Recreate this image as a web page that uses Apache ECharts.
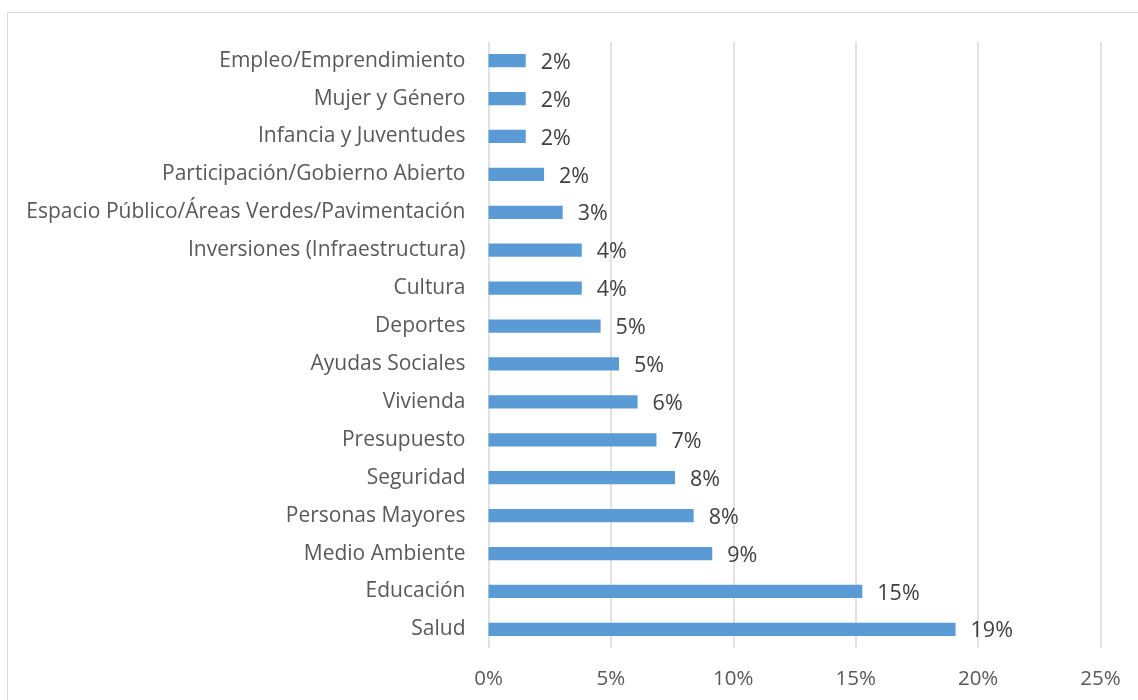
<!DOCTYPE html>
<html><head><meta charset="utf-8">
<script src="https://cdn.jsdelivr.net/npm/echarts@6/dist/echarts.min.js"></script>
<style>html,body{margin:0;padding:0;background:#fff}#c{width:1138px;height:700px}</style>
</head><body><div id="c"></div>
<script>
var categories = ["Empleo/Emprendimiento","Mujer y Género","Infancia y Juventudes","Participación/Gobierno Abierto","Espacio Público/Áreas Verdes/Pavimentación","Inversiones (Infraestructura)","Cultura","Deportes","Ayudas Sociales","Vivienda","Presupuesto","Seguridad","Personas Mayores","Medio Ambiente","Educación","Salud"];
var values = [1.52,1.52,1.52,2.27,3.03,3.81,3.81,4.58,5.33,6.09,6.86,7.62,8.38,9.14,15.27,19.08];
var xTicks = [0,5,10,15,20,25];

var chart = echarts.init(document.getElementById('c'));
var font = '"Open Sans", sans-serif';
chart.setOption({
  animation: false,
  backgroundColor: '#fff',
  graphic: [{type:'rect', shape:{x:7.5,y:12.5,width:1200,height:800}, style:{fill:'none',stroke:'#d9d9d9',lineWidth:1}}],
  grid: {left: 488.5, right: 37.5, top: 41.7, bottom: 51.7, containLabel: false},
  xAxis: {
    type: 'value', min: xTicks[0], max: xTicks[xTicks.length-1], interval: 5,
    axisLine: {show:false}, axisTick: {show:false},
    splitLine: {show:true, lineStyle:{color:'#d9d9d9', width:1.5}},
    axisLabel: {formatter: '{value}%', color:'#595959', fontSize:20.5, fontFamily:font, margin:20}
  },
  yAxis: {
    type: 'category', data: categories, inverse: true,
    axisLine: {show:false}, axisTick: {show:false},
    axisLabel: {color:'#595959', fontSize:21, fontFamily:font, margin:23, padding:[3,0,0,0]}
  },
  series: [{
    type: 'bar', data: values, barWidth: '35%',
    itemStyle: {color:'#5b9bd5'},
    label: {show:true, position:'right', distance:15, color:'#404040', fontSize:21.5, fontFamily:font, offset:[0,2],
      formatter: function(p){ return Math.round(p.value) + '%'; }}
  }]
});
</script></body></html>
